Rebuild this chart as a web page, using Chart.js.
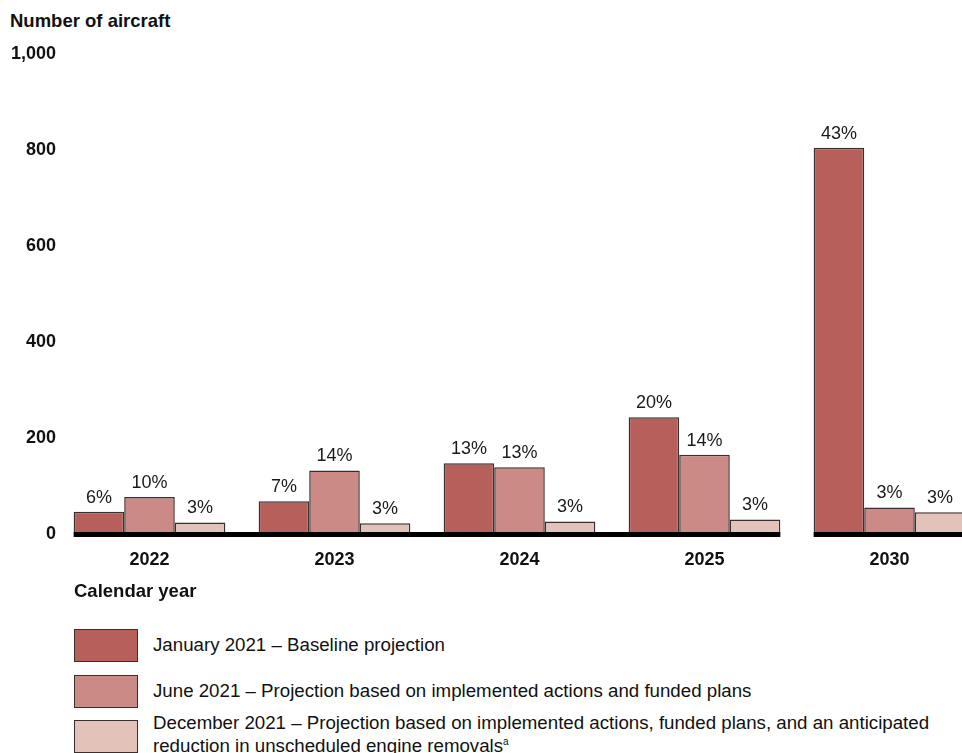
<!DOCTYPE html>
<html>
<head>
<meta charset="utf-8">
<script src="https://cdn.jsdelivr.net/npm/chart.js@4"></script>
<style>
    html, body { margin: 0; padding: 0; background: #fff; }
    body { width: 962px; height: 753px; overflow: hidden; position: relative; font-family: "Liberation Sans", Arial, sans-serif; color: #111; }
    .axis-title { position: absolute; font-weight: bold; font-size: 18.5px; }
    #chartWrap { position: absolute; left: 0; top: 0; width: 990px; height: 586px; }
    .legend-row { position: absolute; left: 74px; }
    .legend-box { position: absolute; left: 0; width: 62px; height: 31px; border: 1px solid #3a2e2e; }
    .legend-text { position: absolute; left: 79px; font-size: 18.7px; line-height: 19px; white-space: nowrap; }
    sup { font-size: 10px; vertical-align: 7px; }
</style>
</head>
<body>
<div class="axis-title" style="left:10px; top:10px;">Number of aircraft</div>
<div id="chartWrap"><canvas id="ChartAircraft"></canvas></div>
<div class="axis-title" style="left:74px; top:580px;">Calendar year</div>

<div class="legend-row" style="top:629px;">
    <div class="legend-box" style="background:#b65f5b;"></div>
    <div class="legend-text" style="top:6px;">January 2021 – Baseline projection</div>
</div>
<div class="legend-row" style="top:675px;">
    <div class="legend-box" style="background:#cb8a85;"></div>
    <div class="legend-text" style="top:6px;">June 2021 – Projection based on implemented actions and funded plans</div>
</div>
<div class="legend-row" style="top:720px;">
    <div class="legend-box" style="background:#e3c2ba;"></div>
    <div class="legend-text" style="top:-7px;">December 2021 – Projection based on implemented actions, funded plans, and an anticipated<br>reduction in unscheduled engine removals<sup>a</sup></div>
</div>

<script>
// Projected aircraft affected, by calendar year
const years = ['2022', '2023', '2024', '2025', '2030'];

const january = [47, 69, 148, 244, 805];
const june = [78, 133, 140, 166, 56];
const december = [25, 23, 27, 31, 46];

// Share labels shown above each bar
const januaryPct = ['6%', '7%', '13%', '20%', '43%'];
const junePct = ['10%', '14%', '13%', '14%', '3%'];
const decemberPct = ['3%', '3%', '3%', '3%', '3%'];

const yTicks = [0, 200, 400, 600, 800, 1000];

const FONT = '"Liberation Sans", Arial, sans-serif';

// Percent labels above bars
const barLabels = {
    id: 'barLabels',
    afterDatasetsDraw(chart) {
        const ctx = chart.ctx;
        ctx.save();
        ctx.font = '18px ' + FONT;
        ctx.fillStyle = '#1a1a1a';
        ctx.textAlign = 'center';
        ctx.textBaseline = 'bottom';
        chart.data.datasets.forEach((ds, i) => {
            chart.getDatasetMeta(i).data.forEach((bar, j) => {
                ctx.fillText(ds.pctLabels[j], bar.x, bar.y - 5);
            });
        });
        ctx.restore();
    }
};

// Thick baseline, broken between 2025 and 2030
const baseline = {
    id: 'baseline',
    afterDatasetsDraw(chart) {
        const ctx = chart.ctx;
        const y = chart.scales.y.getPixelForValue(0);
        const first = chart.getDatasetMeta(0).data;
        const last = chart.getDatasetMeta(2).data;
        const left = (bar) => bar.x - bar.width / 2;
        const right = (bar) => bar.x + bar.width / 2;
        const n = years.length;

        ctx.save();
        ctx.strokeStyle = '#000';
        ctx.lineWidth = 5;
        ctx.beginPath();
        ctx.moveTo(left(first[0]), y);
        ctx.lineTo(right(last[n - 2]), y);
        ctx.moveTo(left(first[n - 1]), y);
        ctx.lineTo(right(last[n - 1]), y);
        ctx.stroke();
        ctx.restore();
    }
};

new Chart(document.getElementById('ChartAircraft'), {
    type: 'bar',
    data: {
        labels: years,
        datasets: [
            {
                label: 'January 2021 – Baseline projection',
                data: january,
                pctLabels: januaryPct,
                backgroundColor: '#b65f5b'
            },
            {
                label: 'June 2021 – Projection based on implemented actions and funded plans',
                data: june,
                pctLabels: junePct,
                backgroundColor: '#cb8a85'
            },
            {
                label: 'December 2021 – Projection based on implemented actions, funded plans, and an anticipated reduction in unscheduled engine removals',
                data: december,
                pctLabels: decemberPct,
                backgroundColor: '#e3c2ba'
            }
        ]
    },
    options: {
        responsive: true,
        maintainAspectRatio: false,
        animation: false,
        layout: {
            padding: { top: 54, left: 0, right: 8, bottom: 0 }
        },
        datasets: {
            bar: {
                categoryPercentage: 0.82,
                barPercentage: 1,
                borderColor: '#3a2e2e',
                borderWidth: 1.5
            }
        },
        plugins: {
            legend: { display: false },
            tooltip: { enabled: false }
        },
        scales: {
            x: {
                grid: { display: false, drawTicks: false },
                border: { display: false },
                ticks: {
                    padding: 15,
                    color: '#111',
                    font: { family: FONT, size: 18, weight: 'bold' }
                }
            },
            y: {
                min: 0,
                max: 1000,
                afterFit(scale) {
                    scale.width = 57;
                },
                afterBuildTicks(scale) {
                    scale.ticks = yTicks.map((v) => ({ value: v }));
                },
                grid: { display: false, drawTicks: false },
                border: { display: false },
                ticks: {
                    padding: 1,
                    color: '#111',
                    font: { family: FONT, size: 18, weight: 'bold' },
                    callback: (v) => v.toLocaleString('en-US')
                }
            }
        }
    },
    plugins: [barLabels, baseline]
});
</script>
</body>
</html>
